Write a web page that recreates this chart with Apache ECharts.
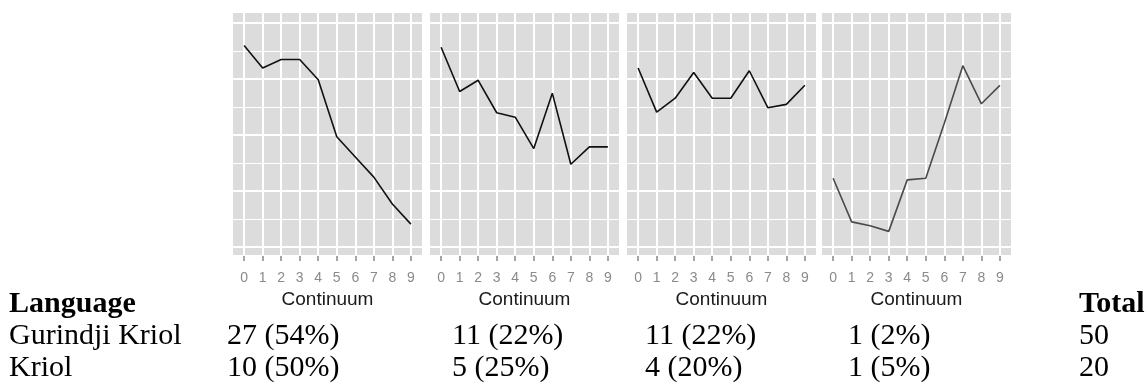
<!DOCTYPE html>
<html><head><meta charset="utf-8">
<script src="https://cdn.jsdelivr.net/npm/echarts@6/dist/echarts.min.js"></script>
<style>html,body{margin:0;padding:0;background:#fff}#c{width:1148px;height:386px}</style>
</head><body><div id="c"></div>
<script>
// ---- data ----
const continuum = [0, 1, 2, 3, 4, 5, 6, 7, 8, 9];
const panel1 = [3.60, 3.20, 3.35, 3.35, 2.99, 1.97, 1.61, 1.25, 0.77, 0.41];
const panel2 = [3.57, 2.78, 2.98, 2.40, 2.32, 1.76, 2.75, 1.48, 1.79, 1.79];
const panel3 = [3.20, 2.41, 2.66, 3.12, 2.66, 2.66, 3.15, 2.49, 2.55, 2.89];
const panel4 = [1.23, 0.45, 0.38, 0.28, 1.20, 1.23, 2.21, 3.24, 2.56, 2.89];
const xAxisTitle = 'Continuum';
const headerRow = ['Language', '', '', '', '', 'Total'];
const gurindjiRow = ['Gurindji Kriol', '27 (54%)', '11 (22%)', '11 (22%)', '1 (2%)', '50'];
const kriolRow = ['Kriol', '10 (50%)', '5 (25%)', '4 (20%)', '1 (5%)', '20'];

// ---- layout ----
const panels = [panel1, panel2, panel3, panel4];
const lineColors = ['#111', '#111', '#111', '#4a4a4a'];
const panelLeft = [233, 430, 627, 822];
const panelW = 189, panelTop = 12, panelH = 244;
const colX = [9, 227, 452, 645, 848, 1079];
const rowY = [304, 336.5, 368];

const grids = [], xAxes = [], yAxes = [], series = [];
panels.forEach((vals, i) => {
  grids.push({left: panelLeft[i], top: panelTop, width: panelW, height: panelH,
    show: true, backgroundColor: '#dcdcdc', borderWidth: 0});
  xAxes.push({
    type: 'value', gridIndex: i, min: -0.6, max: 9.6, splitNumber: 10,
    axisLine: {show: false, onZero: false},
    axisTick: {show: true, customValues: continuum, length: 5, lineStyle: {color: '#888', width: 1.5}},
    axisLabel: {show: true, customValues: continuum, color: '#8a8a8a', fontSize: 14,
      fontFamily: 'Liberation Sans', margin: 15},
    splitLine: {show: true, lineStyle: {color: '#fff', width: 2}},
    name: xAxisTitle, nameLocation: 'middle', nameGap: 27,
    nameTextStyle: {color: '#1a1a1a', fontSize: 19, fontFamily: 'Liberation Sans'}
  });
  yAxes.push({
    type: 'value', gridIndex: i, min: -0.16, max: 4.2, splitNumber: 9,
    axisLine: {show: false, onZero: false}, axisTick: {show: false}, axisLabel: {show: false},
    splitLine: {show: true, lineStyle: {color: '#fff', width: 1}}
  });
  yAxes.push({
    type: 'value', gridIndex: i, min: -0.16, max: 4.2, splitNumber: 4,
    axisLine: {show: false, onZero: false}, axisTick: {show: false}, axisLabel: {show: false},
    splitLine: {show: true, lineStyle: {color: '#fff', width: 2}}
  });
  series.push({
    type: 'line', xAxisIndex: i, yAxisIndex: 2 * i + 1,
    data: continuum.map((x, k) => [x, vals[k]]),
    showSymbol: false, symbol: 'none',
    lineStyle: {color: lineColors[i], width: 1.6},
    emphasis: {disabled: true}
  });
});

const graphic = [];
[headerRow, gurindjiRow, kriolRow].forEach((row, r) => {
  row.forEach((txt, c) => {
    if (!txt) return;
    graphic.push({
      type: 'text', silent: true,
      style: {
        text: txt, x: colX[c], y: rowY[r],
        font: (r === 0 ? 'bold ' : '') + '30px "Liberation Serif"',
        fill: '#000', textAlign: 'left', textVerticalAlign: 'middle'
      }
    });
  });
});

const chart = echarts.init(document.getElementById('c'), null, {renderer: 'canvas'});
chart.setOption({
  animation: false,
  backgroundColor: '#fff',
  grid: grids, xAxis: xAxes, yAxis: yAxes, series: series,
  graphic: graphic
});
</script></body></html>
